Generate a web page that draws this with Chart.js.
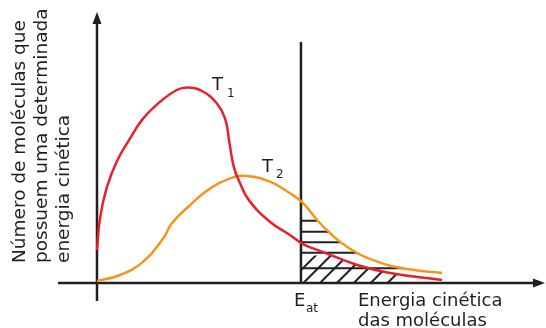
<!DOCTYPE html>
<html>
<head>
<meta charset="utf-8">
<script src="https://cdn.jsdelivr.net/npm/chart.js@4"></script>
<style>
  html, body { margin: 0; padding: 0; background: #fff; }
  #wrap { width: 546px; height: 328px; position: relative; }
</style>
</head>
<body>
<div id="wrap"><canvas id="myChart"></canvas></div>
<script>
// energia cinética (unidades arbitrárias) e número de moléculas
const t1X = [0, 0.87, 2.8, 5.7, 9.6, 13.4, 18.3, 23.1, 26.5, 30.8, 34.7, 37.1, 38.3, 39.6, 41.3, 44.0, 50.1, 55.9, 59.7, 65.5, 75.4, 84.9, 100]
const t1Y = [16.8, 33.0, 48.5, 61.9, 73.8, 84.0, 92.5, 98.5, 99.8, 97.6, 91.7, 84.0, 72.5, 59.5, 51.5, 42.3, 31.3, 24.5, 19.9, 15.8, 9.2, 5.1, 1.5]
const t2X = [0, 6.7, 13.4, 19.2, 21.7, 27.0, 32.8, 38.6, 43.4, 50.1, 55.9, 59.7, 63.8, 67.5, 72.5, 80, 89.9, 100]
const t2Y = [1.0, 4.1, 10.9, 22.8, 30.5, 39.8, 48.3, 53.4, 54.6, 51.7, 45.8, 40.8, 32.1, 25.5, 18.4, 11.7, 7.1, 5.1]
const eAt = 59.1
const hatchLevels = [31.8, 26.2, 20.8, 15.5, 7.5]
const hatchDiag = [55.4, 59.8, 64.6, 69.5, 74.4, 79.3, 84.2]

const dark = '#231f20'
const font = '"DejaVu Sans", sans-serif'

function toPoints(xs, ys) {
    return xs.map((x, i) => ({x: x, y: ys[i]}))
}

function curvePath(ctx, chart, idx, y0) {
    const meta = chart.getDatasetMeta(idx)
    const pts = meta.data
    ctx.beginPath()
    if (meta.dataset && typeof meta.dataset.path === 'function') {
        meta.dataset.path(ctx)
    } else {
        pts.forEach((p, i) => i ? ctx.lineTo(p.x, p.y) : ctx.moveTo(p.x, p.y))
    }
    ctx.lineTo(pts[pts.length - 1].x, y0)
    ctx.lineTo(pts[0].x, y0)
    ctx.closePath()
}

const drawing = {
    id: 'drawing',
    beforeDatasetsDraw(chart) {
        const ctx = chart.ctx
        const xs = chart.scales.x
        const ys = chart.scales.y
        const area = chart.chartArea
        const x0 = xs.getPixelForValue(0)
        const y0 = ys.getPixelForValue(0)
        const xe = xs.getPixelForValue(eAt)

        ctx.save()
        ctx.strokeStyle = dark
        ctx.fillStyle = dark
        ctx.lineWidth = 2.5

        // hachuras horizontais (abaixo de T2)
        ctx.save()
        curvePath(ctx, chart, 1, y0)
        ctx.clip()
        ctx.beginPath()
        ctx.rect(xe, area.top, area.right - xe, y0 - area.top)
        ctx.clip()
        ctx.lineWidth = 2
        hatchLevels.forEach(v => {
            const y = ys.getPixelForValue(v)
            ctx.beginPath()
            ctx.moveTo(xe, y)
            ctx.lineTo(area.right, y)
            ctx.stroke()
        })
        ctx.restore()

        // hachuras diagonais (abaixo de T1)
        ctx.save()
        curvePath(ctx, chart, 0, y0)
        ctx.clip()
        ctx.beginPath()
        ctx.rect(xe, ys.getPixelForValue(14), area.right - xe, y0 - ys.getPixelForValue(14))
        ctx.clip()
        ctx.lineWidth = 2
        hatchDiag.forEach(v => {
            const x = xs.getPixelForValue(v)
            ctx.beginPath()
            ctx.moveTo(x, y0)
            ctx.lineTo(x + 30, y0 - 30)
            ctx.stroke()
        })
        ctx.restore()

        // eixos
        ctx.beginPath()
        ctx.moveTo(area.left, y0)
        ctx.lineTo(area.right - 8, y0)
        ctx.moveTo(x0, area.bottom)
        ctx.lineTo(x0, area.top + 8)
        // linha E_at
        ctx.moveTo(xe, y0)
        ctx.lineTo(xe, ys.getPixelForValue(123))
        ctx.stroke()

        // setas
        ctx.beginPath()
        ctx.moveTo(area.right - 1, y0)
        ctx.lineTo(area.right - 13, y0 - 4.5)
        ctx.lineTo(area.right - 13, y0 + 4.5)
        ctx.closePath()
        ctx.fill()
        ctx.beginPath()
        ctx.moveTo(x0, area.top)
        ctx.lineTo(x0 - 4.5, area.top + 12)
        ctx.lineTo(x0 + 4.5, area.top + 12)
        ctx.closePath()
        ctx.fill()
        ctx.restore()
    },
    afterDraw(chart) {
        const ctx = chart.ctx
        ctx.save()
        ctx.fillStyle = dark
        ctx.textBaseline = 'alphabetic'
        ctx.textAlign = 'left'

        // rótulo do eixo y
        ctx.font = '18.5px ' + font
        const yLines = ['Número de moléculas que', 'possuem uma determinada', 'energia cinética']
        yLines.forEach((s, i) => {
            ctx.save()
            ctx.translate(25 + i * 22, 263)
            ctx.rotate(-Math.PI / 2)
            ctx.fillText(s, 0, 0)
            ctx.restore()
        })

        // rótulo do eixo x
        ctx.font = '18px ' + font
        ctx.fillText('Energia cinética', 358, 306)
        ctx.fillText('das moléculas', 358, 326)

        // T1, T2, Eat
        ctx.fillText('T', 212, 90)
        ctx.fillText('T', 262, 172)
        ctx.fillText('E', 294, 306)
        ctx.font = '12px ' + font
        ctx.fillText('1', 227, 97)
        ctx.fillText('2', 276, 178)
        ctx.fillText('at', 306, 312)
        ctx.restore()
    }
}

new Chart(document.getElementById('myChart'), {
    type: 'line',
    data: {
        datasets: [{
            label: 'T1',
            data: toPoints(t1X, t1Y),
            borderColor: '#e8202a',
            borderWidth: 2.5,
            pointRadius: 0,
            tension: 0.45,
            fill: false
        }, {
            label: 'T2',
            data: toPoints(t2X, t2Y),
            borderColor: '#f7941d',
            borderWidth: 2.5,
            pointRadius: 0,
            tension: 0.45,
            fill: false
        }]
    },
    options: {
        responsive: true,
        maintainAspectRatio: false,
        animation: false,
        layout: { padding: { left: 58, right: 0, top: 12, bottom: 27 } },
        plugins: { legend: { display: false }, tooltip: { enabled: false } },
        scales: {
            x: { type: 'linear', display: false, min: -11.3, max: 130.1 },
            y: { display: false, min: -9.18, max: 138.3 }
        }
    },
    plugins: [drawing]
});
</script>
</body>
</html>
